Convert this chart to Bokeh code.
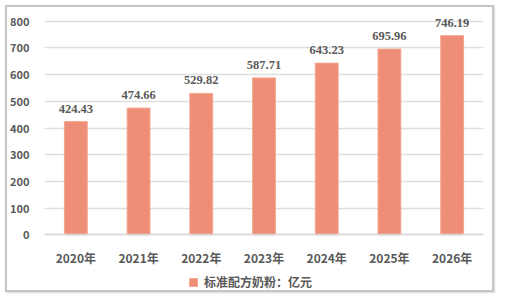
from bokeh.plotting import figure
from bokeh.models import ColumnDataSource, LabelSet, Legend, LegendItem, FixedTicker, Range1d
from bokeh.embed import file_html
from bokeh.resources import INLINE

years = ["2020年", "2021年", "2022年", "2023年", "2024年", "2025年", "2026年"]
values = [424.43, 474.66, 529.82, 587.71, 643.23, 695.96, 746.19]
value_labels = ["424.43", "474.66", "529.82", "587.71", "643.23", "695.96", "746.19"]
y_ticks = [0, 100, 200, 300, 400, 500, 600, 700, 800]
series_name = "标准配方奶粉：亿元"

FONT = "Noto Sans CJK SC"
TXT = "#595959"

src = ColumnDataSource(dict(x=years, top=values, lab=value_labels))

p = figure(x_range=years, y_range=Range1d(-216, 829), width=489, height=287,
           output_backend="svg", toolbar_location=None,
           min_border_left=35, min_border_right=13, min_border_top=6, min_border_bottom=2,
           styles={"margin-left": "5px", "margin-top": "5px",
                   "border": "2px solid #c4c4c4",
                   "box-shadow": "1px 1px 2px #d8d8d8"})
p.outline_line_color = None
p.background_fill_color = "white"
p.border_fill_color = "white"

r = p.vbar(x="x", top="top", bottom=0, width=0.365, source=src,
           fill_color="#EE8E77", line_color="#F5A893", line_width=1)

p.add_layout(LabelSet(x="x", y="top", text="lab", source=src, text_align="center",
                      text_baseline="bottom", y_offset=9, text_font=FONT,
                      text_font_size="12.5px", text_font_style="bold", text_color=TXT))

p.yaxis.ticker = FixedTicker(ticks=y_ticks)
p.yaxis.axis_line_color = None
p.yaxis.major_tick_line_color = None
p.yaxis.minor_tick_line_color = None
p.yaxis.major_label_standoff = 9
p.yaxis.major_label_text_font = FONT
p.yaxis.major_label_text_font_size = "11px"
p.yaxis.major_label_text_font_style = "bold"
p.yaxis.major_label_text_color = TXT

p.xaxis.fixed_location = 0
p.xaxis.axis_line_color = "#d9d9d9"
p.xaxis.axis_line_width = 1.5
p.xaxis.major_tick_line_color = None
p.xaxis.minor_tick_line_color = None
p.xaxis.major_label_standoff = 8
p.xaxis.major_label_text_font = FONT
p.xaxis.major_label_text_font_size = "12px"
p.xaxis.major_label_text_font_style = "bold"
p.xaxis.major_label_text_color = TXT

p.xgrid.grid_line_color = None
p.ygrid.grid_line_color = "#dedede"
p.ygrid.grid_line_width = 1.5

legend = Legend(items=[LegendItem(label=series_name, renderers=[r])],
                orientation="horizontal", border_line_color=None,
                background_fill_alpha=0, label_text_font=FONT,
                label_text_font_size="12px", label_text_font_style="bold",
                label_text_color=TXT, glyph_width=10, glyph_height=10,
                label_standoff=6, padding=4, margin=0, location=(144, 2))
p.add_layout(legend, "center")

open("out.html", "w").write(file_html(p, INLINE))
